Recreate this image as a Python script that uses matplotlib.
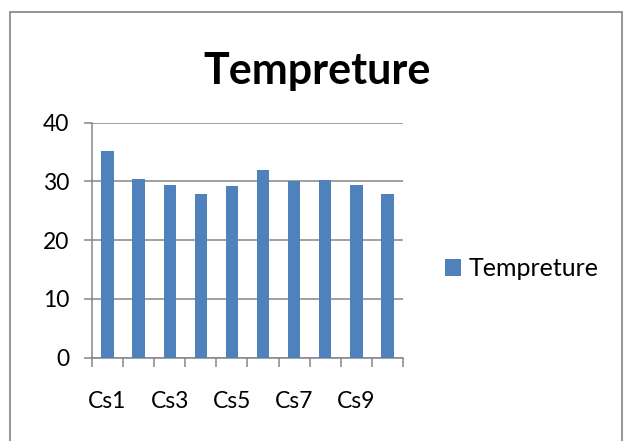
import matplotlib
matplotlib.use('Agg')
import matplotlib.pyplot as plt
from matplotlib.patches import Rectangle

# chart data
categories = ['Cs1', 'Cs2', 'Cs3', 'Cs4', 'Cs5', 'Cs6', 'Cs7', 'Cs8', 'Cs9', 'Cs10']
temps = [35.1, 30.4, 29.4, 27.9, 29.2, 31.9, 30.0, 30.2, 29.4, 27.9]
yticks = [0, 10, 20, 30, 40]
series_name = 'Tempreture'

plt.rcParams['font.family'] = ['Lato', 'DejaVu Sans']

grid_col = '#868686'
bar_col = '#4F81BD'

fig = plt.figure(figsize=(6.24, 4.41), dpi=100)
ax = fig.add_axes([0.1474, 0.1893, 0.4984, 0.5325])

x = list(range(len(categories)))
ax.bar(x, temps, width=0.4, color=bar_col, label=series_name, zorder=3)

ax.set_xlim(-0.5, len(categories) - 0.5)
ax.set_ylim(0, 40)
ax.set_yticks(yticks)
ax.set_yticklabels([str(v) for v in yticks], fontsize=16.5)
ax.yaxis.grid(True, color=grid_col, linewidth=1.1, zorder=0)

# labels under every other category, tick marks at the boundaries
ax.set_xticks(x[::2])
ax.set_xticklabels(categories[::2], fontsize=16.5)
ax.set_xticks([i - 0.5 for i in range(len(categories) + 1)], minor=True)
ax.tick_params(axis='x', which='major', length=0, pad=24)
ax.tick_params(axis='x', which='minor', length=6.5, width=1.1, color=grid_col)
ax.tick_params(axis='y', length=5.5, width=1.1, color=grid_col, pad=11)

for s in ['top', 'right']:
    ax.spines[s].set_visible(False)
for s in ['left', 'bottom']:
    ax.spines[s].set_color(grid_col)
    ax.spines[s].set_linewidth(1.1)

fig.text(0.508, 0.838, series_name, ha='center', va='center',
         fontsize=31, fontweight='bold')

fig.legend(loc='center left', bbox_to_anchor=(445 / 624, 1 - 269 / 441),
           frameon=False, fontsize=18, handlelength=0.65, handleheight=0.65,
           handletextpad=0.3, borderpad=0, borderaxespad=0)

# outer chart border
fig.patches.append(Rectangle((10 / 624, -0.1), 612 / 624, 1.1 - 12 / 441,
                             transform=fig.transFigure, fill=False,
                             edgecolor='#8c8c8c', linewidth=1.3))

plt.savefig('out.png', dpi=100)
